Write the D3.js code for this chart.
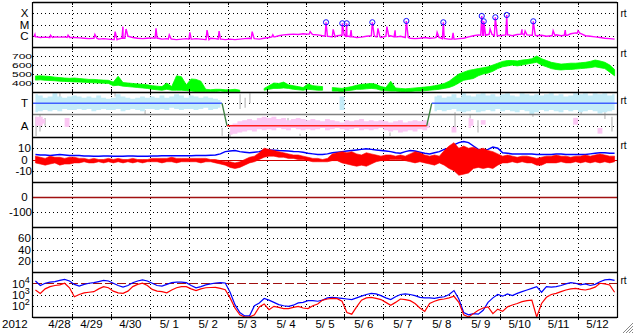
<!DOCTYPE html>
<html><head><meta charset="utf-8">
<script src="https://cdn.jsdelivr.net/npm/d3@7"></script>
<style>
html,body{margin:0;padding:0;background:#fff;}
svg{display:block;font-family:"Liberation Sans",Arial,sans-serif;}
</style></head><body>
<svg id="c" width="633" height="334"></svg>
<script>
// ---------------- DATA ----------------
const yearLabel = "2012";
const dayLabels = ["4/28","4/29","4/30","5/ 1","5/ 2","5/ 3","5/ 4","5/ 5","5/ 6","5/ 7","5/ 8","5/ 9","5/10","5/11","5/12"];
const binDays = 0.125; // 3-hour bins, days since 2012-04-28 00:00 UT

const xrayTickValues = [1e-4, 1e-5, 1e-6];
const xrayTickLabels = ["X", "M", "C"];
const speedTicks = [700, 600, 500, 400];
const sectorTickValues = [1, -1];
const sectorTickLabels = ["T", "A"];
const imfTicks = [10, 0, -10];
const dstTicks = [0, -100];
const p6Ticks = [60, 40, 20];
const electronTicks = [1e4, 1e3, 1e2];
const electronTickExp = ["4", "3", "2"];

// X-ray background flux per 3h bin (units of 1e-6 W/m2)
const xrayBg = [
 0.8,0.7,0.75,0.7,0.8,0.75,0.8,0.7,
 0.7,0.65,0.6,0.55,0.6,0.5,0.55,0.5,
 0.45,0.5,0.6,0.9,0.7,0.6,0.55,0.6,
 0.65,0.6,0.5,0.55,0.5,0.45,0.5,0.55,
 0.5,0.55,0.5,0.45,0.6,0.55,0.5,0.45,
 0.5,0.45,0.5,0.55,0.6,0.55,0.5,0.6,
 0.7,0.8,1.0,1.2,1.3,1.4,1.3,1.5,
 1.4,1.3,1.2,1.0,0.9,0.8,1.0,1.1,
 0.9,0.8,0.7,0.75,0.9,1.0,0.8,0.7,
 0.9,1.0,0.8,0.9,0.7,0.6,0.55,0.6,
 0.7,0.6,0.65,0.7,0.55,0.5,0.5,0.55,
 0.6,0.8,1.0,1.2,1.1,1.3,1.2,1.0,
 1.1,1.2,1.0,1.3,1.4,1.2,1.1,1.0,
 1.1,0.9,1.0,1.2,1.0,1.1,1.5,1.8,
 1.6,1.0,0.9,0.8,0.7,0.6,0.55,0.5];
// C-class spikes (day, peak in 1e-6 W/m2)
const cSpikeDay  = [0.05,0.45,0.9,1.59,2.11,2.31,2.39,3.16,3.5,4.03,4.47,4.78,5.63,6.16,7.12,7.71,8.17,8.86,9.09,9.30,10.38,10.79,11.74,12.56,12.64,13.36,13.67,14.0];
const cSpikePeak = [1.3,1.1,1.1,1.3,2.3,6.4,4.0,4.6,1.2,2.0,3.2,2.6,2.3,1.2,2.3,3.7,3.2,4.6,6.4,3.0,2.0,1.8,4.0,3.7,2.6,2.8,3.2,2.8];
// M-class flares (circled)
const flareDay  = [7.527,7.945,8.058,8.716,9.589,10.54,11.526,11.577,11.875,12.168,12.85];
const flarePeak = [15.7,12.8,12.8,15.7,20.5,15.7,57,19.2,43.6,69.9,19.2];

// Solar wind speed band per 3h bin (km/s)
const speedLo = [
 432,435,430,428,425,420,418,415,
 412,410,408,405,402,400,398,395,
 370,375,365,360,355,350,345,340,
 330,325,320,330,320,320,320,315,
 310,305,305,305,305,305,310,305,
 305,305,305,null,null,null,null,320,
 330,340,340,345,340,330,325,320,
 330,325,320,320,null,310,310,305,
 315,320,330,330,335,340,335,320,
 315,310,310,305,305,305,310,310,
 315,320,325,330,340,350,370,400,
 430,440,450,480,500,510,530,560,
 580,590,600,590,600,610,620,630,
 600,580,560,550,545,550,550,555,
 560,565,570,580,570,560,520,480];
const speedHi = [
 478,480,476,472,465,460,455,452,
 455,450,445,440,440,435,432,430,
 410,475,405,400,395,390,385,380,
 370,365,360,400,360,480,470,380,
 445,440,420,330,325,330,330,325,
 325,330,320,null,null,null,null,340,
 370,400,395,410,380,370,360,350,
 390,370,365,360,null,350,345,340,
 350,360,375,385,390,395,385,360,
 350,420,345,340,335,340,345,350,
 355,360,370,380,395,420,460,500,
 520,540,550,560,570,580,600,620,
 640,650,650,645,655,660,670,700,
 670,650,630,620,610,615,620,620,
 625,630,640,655,645,630,600,550];

// IMF sector (T = +1, A = -1): toward / away scatter bands per bin
const towardLo = [
 0.2,0.3,0.4,0.3,0.4,0.3,0.5,0.4,
 0.4,0.5,0.4,0.5,0.3,0.4,0.5,0.4,
 0.4,0.5,0.3,0.4,0.5,0.4,0.3,0.5,
 0.5,0.4,0.5,0.4,0.6,0.5,0.4,0.5,
 0.5,0.4,0.5,0.6,0.4,0.5,0.6,null,
 null,null,null,null,null,null,null,null,
 null,null,null,null,null,null,null,null,
 null,null,null,null,null,null,null,0.4,
 null,null,null,null,null,null,null,null,
 null,null,null,null,null,null,null,null,
 null,null,0.3,0.4,0.3,0.4,0.5,0.3,
 0.2,0.3,0.4,0.2,0.3,0.4,0.3,0.5,
 0.3,0.4,0.3,0.2,0.4,0.3,0.0,0.2,
 0.4,0.3,0.4,0.3,0.2,0.4,0.3,0.4,
 0.2,0.3,0.4,0.3,0.1,0.2,0.3,0.4];
const towardHi = [
 1.8,1.7,1.5,1.6,1.9,1.6,1.5,1.6,
 1.7,1.6,1.5,1.6,1.5,1.7,1.5,1.4,
 1.5,1.8,1.6,1.5,1.4,1.5,1.6,1.5,
 1.6,1.5,1.7,1.5,1.6,1.8,1.7,1.5,
 1.7,1.6,1.5,1.6,1.5,1.4,1.3,null,
 null,null,null,null,null,null,null,null,
 null,null,null,null,null,null,null,null,
 null,null,null,null,null,null,null,1.6,
 null,null,null,null,null,null,null,null,
 null,null,null,null,null,null,null,null,
 null,null,1.6,1.7,1.5,1.6,1.8,1.5,
 1.9,1.7,1.6,1.8,1.9,1.7,1.8,1.6,
 1.8,1.9,1.7,1.6,1.9,1.8,1.7,1.8,
 1.7,1.8,1.9,1.7,1.8,1.6,1.7,1.9,
 1.8,1.9,1.7,1.9,1.8,1.9,1.7,1.8];
const awayLo = [
 -1.0,-1.0,-0.8,null,null,null,-1.1,-1.1,
 null,null,null,null,null,null,null,null,
 null,null,null,null,null,null,null,null,
 null,null,null,null,null,null,null,null,
 null,null,null,null,null,null,null,null,
 -1.8,-1.7,-1.6,-1.5,-1.4,-1.5,-1.3,-1.4,
 -1.3,-1.4,-1.2,-1.3,-1.4,-1.2,-1.3,-1.4,
 -1.3,-1.4,-1.3,-1.2,-1.4,-1.3,-1.2,-1.3,
 -1.4,-1.3,-1.2,-1.4,-1.3,-1.4,-1.3,-1.2,
 -1.4,-1.5,-1.4,-1.6,-1.5,-1.4,-1.5,-1.3,
 -1.4,-1.2,null,null,null,null,-1.6,null,
 null,-1.2,-1.0,null,-0.9,null,null,null,
 null,null,null,null,null,null,null,null,
 null,null,null,null,null,null,null,-0.9,
 null,null,null,null,-1.7,null,null,null];
const awayHi = [
 -0.2,-0.2,-0.4,null,null,null,-0.3,-0.3,
 null,null,null,null,null,null,null,null,
 null,null,null,null,null,null,null,null,
 null,null,null,null,null,null,null,null,
 null,null,null,null,null,null,null,null,
 -0.9,-0.8,-0.6,-0.5,-0.4,-0.5,-0.3,-0.2,
 -0.3,-0.2,-0.4,-0.3,-0.5,-0.4,-0.3,-0.4,
 -0.5,-0.4,-0.5,-0.6,-0.4,-0.5,-0.6,-0.7,
 -0.5,-0.6,-0.5,-0.4,-0.6,-0.5,-0.6,-0.5,
 -0.6,-0.7,-0.6,-0.5,-0.7,-0.6,-0.5,-0.6,
 -0.5,-0.7,null,null,null,null,-1.1,null,
 null,-0.3,-0.4,null,-0.5,null,null,null,
 null,null,null,null,null,null,null,null,
 null,null,null,null,null,null,null,-0.3,
 null,null,null,null,-1.2,null,null,null];
const grayDay = [0.08,0.18,0.31,0.69,2.11,2.88,4.03,4.86,5.06,5.32,5.45,5.57,6.55,6.86,9.17,10.84,11.23,11.43,12.84,14.08,14.69,14.87];
const grayLo  = [-1.9,-1.5,-1.0,1.4,1.6,0.0,1.5,-1.9,-2.0,0.5,0.6,1.0,-1.3,-1.9,-1.9,-1.5,-1.2,-1.6,-0.2,0.0,-0.4,-1.5];
const grayHi  = [-0.2,0.0,-0.3,1.9,1.9,0.4,1.9,-1.2,-1.5,1.8,1.5,1.9,-0.3,-1.7,-1.6,0.2,0.0,-0.5,0.1,0.4,0.2,-0.2];
// sector polarity fit
const sectorDay = [0, 4.855, 4.983, 10.113, 10.242, 15];
const sectorVal = [1, 1, -1, -1, 1, 1];

// IMF |B| (nT) per bin
const btVals = [
 4.5,4.0,4.0,3.5,4.0,4.5,4.0,3.5,
 3.5,3.5,3.2,3.2,3.0,3.0,3.2,3.2,
 3.0,3.0,3.0,3.2,3.2,3.0,3.0,3.0,
 3.2,3.2,3.4,3.4,3.3,3.3,3.4,3.4,
 3.4,3.5,3.5,3.6,3.8,4.0,5.0,7.0,
 7.5,8.0,7.0,6.5,6.0,6.5,7.0,8.5,
 8.5,8.3,8.0,7.8,7.5,7.2,7.0,6.5,
 5.5,5.0,4.5,4.5,5.0,6.0,6.5,7.0,
 7.5,8.0,8.5,9.0,9.5,9.0,8.5,8.0,
 7.5,7.0,6.0,5.5,7.0,8.0,7.5,6.5,
 5.5,5.0,6.0,7.0,9.0,10.0,13.0,15.0,
 16.0,15.0,12.0,9.0,8.5,9.0,11.0,10.0,
 6.0,5.5,5.0,5.0,5.0,4.8,4.8,4.5,
 4.5,4.5,4.5,4.8,4.8,4.5,4.5,4.5,
 4.5,4.5,5.0,5.5,6.0,6.0,5.5,5.5];
// IMF Bz (nT) band per bin
const bzLo = [
 -3,-4,-5,-4,-3,-5,-4,-4,
 -3,-3,-2,-3,-3,-2,-3,-2,
 -3,-2,-3,-2,-3,-2,-3,-2,
 -2,-2,-3,-2,-2,-3,-2,-2,
 -2,-2,-3,-2,-2,-3,-4,-5,
 -7,-8,-7,-5,-3,-2,0,2,
 3,3,2,2,1,1,0,0,
 -1,-2,-2,-2,-2,-1,-1,-3,
 -4,-5,-6,-5,-6,-4,-2,-1,
 -1,0,0,0,-1,-2,-3,-2,
 -3,-4,-5,-3,-5,-8,-10,-14,
 -13,-12,-8,-7,-8,-7,-8,-5,
 -3,-3,-2,-3,-2,-3,-3,-5,
 -5,-3,-3,-3,-2,-3,-3,-2,
 -3,-2,-3,-2,-3,-2,-3,-2];
const bzHi = [
 3,2,1,3,2,2,1,2,
 2,1,1,0,1,0,0,1,
 0,1,0,0,1,0,0,0,
 1,1,1,1,2,1,1,1,
 1,1,1,1,0,0,-1,-2,
 -2,-3,-2,0,2,3,6,10,
 9,8,7,6,5,4,4,3,
 2,1,1,0,1,5,6,7,
 6,7,5,4,6,5,4,3,
 4,4,3,4,3,5,7,6,
 4,3,4,3,8,12,15,10,
 12,10,11,9,10,8,7,5,
 3,4,3,2,3,3,2,1,
 2,3,3,4,3,3,2,3,
 3,4,3,4,5,4,3,3];

// Electron flux, log10 per bin
const eBlueLog = [
 4.2,3.8,4.0,4.1,4.15,4.25,4.35,4.2,
 3.9,3.75,3.9,4.0,4.05,4.15,4.25,4.2,
 4.0,3.8,3.65,3.8,4.05,4.2,4.3,4.2,
 4.0,3.8,3.75,3.9,4.05,4.1,4.1,4.05,
 3.8,3.6,3.7,3.85,3.95,4.02,4.05,4.02,
 3.2,2.1,1.4,1.1,1.1,2.0,2.25,2.65,
 2.5,2.3,2.1,2.0,1.95,2.05,2.25,2.3,
 2.45,2.45,2.4,2.5,2.7,2.75,2.7,2.65,
 2.6,2.55,2.7,2.85,3.0,3.1,3.05,2.9,
 2.7,2.55,2.8,3.0,3.05,3.0,2.9,2.75,
 2.7,2.7,2.65,2.75,2.8,3.0,3.35,2.6,
 1.4,1.2,1.3,1.25,1.6,2.3,2.7,3.0,
 2.85,3.05,2.9,3.1,3.25,3.4,3.55,3.7,
 3.2,3.7,3.65,3.7,3.8,3.95,4.05,4.0,
 3.85,3.95,3.8,3.9,4.14,4.3,4.35,4.25];
const eRedLog = [
 3.4,3.1,3.5,3.7,3.8,3.85,4.0,3.6,
 2.8,3.0,3.15,3.2,3.25,3.5,3.7,3.6,
 3.3,3.15,3.1,3.3,3.7,3.9,4.0,3.8,
 3.45,3.3,3.25,3.15,3.4,3.6,3.7,3.7,
 3.5,3.35,3.5,3.6,3.62,3.64,3.55,3.43,
 2.7,1.8,1.2,1.0,1.0,1.2,1.9,2.16,
 1.65,1.95,1.85,1.75,1.74,1.85,1.95,1.8,
 1.75,2.0,2.16,2.5,2.6,2.65,2.63,2.4,
 1.4,1.25,1.9,2.5,2.7,2.75,2.65,2.55,
 2.3,2.05,2.3,2.6,2.55,2.45,2.2,1.8,
 1.5,2.2,2.4,2.55,2.6,2.7,2.84,2.3,
 1.2,1.0,1.3,1.6,1.8,1.9,1.3,1.7,
 1.5,1.9,2.07,2.2,2.36,2.45,2.5,1.0,
 2.2,2.75,3.0,3.1,3.25,3.4,3.5,3.55,
 3.45,3.4,3.5,3.65,4.0,3.95,3.85,3.2];

// ---------------- DRAW ----------------
const svg = d3.select("#c");
const L = 33, R = 617, PH = 45;
const tops = [2, 47, 92, 137, 182, 227, 272];
const BOT = tops[6] + PH;
const x = d3.scaleLinear().domain([0, 15]).range([L, R]);
const yX = d3.scaleLog().domain([1e-7, 1e-3]).range([tops[0] + PH, tops[0]]);
const yV = d3.scaleLinear().domain([300, 800]).range([tops[1] + PH, tops[1]]);
const yS = d3.scaleLinear().domain([-2, 2]).range([tops[2] + PH, tops[2]]);
const yB = d3.scaleLinear().domain([-20, 20]).range([tops[3] + PH, tops[3]]);
const yD = d3.scaleLinear().domain([-200, 100]).range([tops[4] + PH, tops[4]]);
const yK = d3.scaleLinear().domain([0, 80]).range([tops[5] + PH, tops[5]]);
const yE = d3.scaleLog().domain([10, 1e5]).range([tops[6] + PH, tops[6]]);
const crisp = v => Math.round(v) + 0.5;
const binMid = i => (i + 0.5) * binDays;

const defs = svg.append("defs");
tops.forEach((t, i) => {
  defs.append("clipPath").attr("id", "cp" + i).append("rect")
    .attr("x", L).attr("y", t).attr("width", R - L).attr("height", PH);
});
const panel = i => svg.append("g").attr("clip-path", `url(#cp${i})`);

// grid
const grid = svg.append("g");
function dotH(y, color) {
  grid.append("line").attr("x1", L).attr("x2", R).attr("y1", crisp(y)).attr("y2", crisp(y))
    .attr("stroke", color || "#000").attr("stroke-width", 1).attr("stroke-dasharray", "1,3");
}
xrayTickValues.forEach(v => dotH(yX(v)));
speedTicks.forEach(v => dotH(yV(v)));
sectorTickValues.forEach(v => dotH(yS(v)));
imfTicks.filter(v => v !== 0).forEach(v => dotH(yB(v)));
dstTicks.filter(v => v !== 0).forEach(v => dotH(yD(v)));
p6Ticks.forEach(v => dotH(yK(v)));
electronTicks.filter(v => v !== 1e4).forEach(v => dotH(yE(v)));
d3.range(1, 15).forEach(d => {
  tops.forEach(t => {
    grid.append("line").attr("x1", crisp(x(d))).attr("x2", crisp(x(d)))
      .attr("y1", t).attr("y2", t + PH)
      .attr("stroke", "#000").attr("stroke-dasharray", "1,3");
  });
});

// --- Panel 0: X-ray
{
  const g = panel(0);
  const bgAt = t => xrayBg[Math.max(0, Math.min(xrayBg.length - 1, Math.floor(t / binDays)))];
  let pts = xrayBg.map((v, i) => ({ t: binMid(i), v: v }));
  const spikes = cSpikeDay.map((d, i) => ({ t: d, p: cSpikePeak[i] }))
    .concat(flareDay.map((d, i) => ({ t: d, p: flarePeak[i] })));
  spikes.forEach(s => {
    pts.push({ t: s.t - 0.025, v: bgAt(s.t) });
    pts.push({ t: s.t, v: s.p });
    pts.push({ t: s.t + 0.05, v: bgAt(s.t) });
  });
  pts.sort((a, b) => a.t - b.t);
  g.append("path").datum(pts)
    .attr("d", d3.line().x(d => x(d.t)).y(d => yX(d.v * 1e-6)))
    .attr("fill", "none").attr("stroke", "#ff00ff").attr("stroke-width", 1.4);
  g.selectAll("circle.fl").data(flareDay).join("circle")
    .attr("cx", (d) => x(d)).attr("cy", (d, i) => yX(flarePeak[i] * 1e-6))
    .attr("r", 2.6).attr("fill", "none").attr("stroke", "#1010ff").attr("stroke-width", 1);
}

// --- Panel 1: speed
{
  const g = panel(1);
  const data = speedLo.map((lo, i) => ({ t: binMid(i), lo: lo, hi: speedHi[i] }));
  g.append("path").datum(data)
    .attr("d", d3.area().defined(d => d.lo != null).x(d => x(d.t)).y0(d => yV(d.lo)).y1(d => yV(d.hi)))
    .attr("fill", "#00ff00").attr("stroke", "#00ff00").attr("stroke-width", 0.8);
}

// --- Panel 2: sector
{
  const g = panel(2);
  grayDay.forEach((d, i) => {
    g.append("line").attr("x1", x(d)).attr("x2", x(d)).attr("y1", yS(grayLo[i])).attr("y2", yS(grayHi[i]))
      .attr("stroke", "#cccccc").attr("stroke-width", 1.6);
  });
  const band = (lo, hi, color) => {
    const data = lo.map((l, i) => ({ t: binMid(i), lo: l, hi: hi[i] }));
    g.append("path").datum(data)
      .attr("d", d3.area().defined(d => d.lo != null).curve(d3.curveStep)
        .x(d => x(d.t)).y0(d => yS(d.lo)).y1(d => yS(d.hi)))
      .attr("fill", color);
    data.forEach((d, i) => {
      if (d.lo == null) return;
      const prev = i > 0 ? data[i - 1].lo : null, next = i < data.length - 1 ? data[i + 1].lo : null;
      if (prev == null && next == null) {
        g.append("rect").attr("x", x(i * binDays)).attr("width", x(binDays) - x(0))
          .attr("y", yS(d.hi)).attr("height", yS(d.lo) - yS(d.hi)).attr("fill", color);
      }
    });
  };
  band(towardLo, towardHi, "#c4ecf8");
  band(awayLo, awayHi, "#fcc8f4");
  g.append("line").attr("x1", L).attr("x2", R).attr("y1", yS(0)).attr("y2", yS(0))
    .attr("stroke", "#808080").attr("stroke-width", 1.5);
  for (let i = 0; i < sectorDay.length - 1; i++) {
    const a = sectorVal[i], b = sectorVal[i + 1];
    const col = a !== b ? "#3c8040" : (a > 0 ? "#4060ff" : "#ff2020");
    g.append("line").attr("x1", x(sectorDay[i])).attr("x2", x(sectorDay[i + 1]))
      .attr("y1", yS(a)).attr("y2", yS(b)).attr("stroke", col).attr("stroke-width", 1.3);
  }
}

// --- Panel 3: IMF
{
  const g = panel(3);
  g.append("line").attr("x1", L).attr("x2", R).attr("y1", crisp(yB(0))).attr("y2", crisp(yB(0)))
    .attr("stroke", "#cc0000").attr("stroke-width", 1);
  g.append("path").datum(btVals)
    .attr("d", d3.line().x((d, i) => x(binMid(i))).y(d => yB(d)))
    .attr("fill", "none").attr("stroke", "#0000ff").attr("stroke-width", 1.5);
  const data = bzLo.map((lo, i) => ({ t: binMid(i), lo: lo, hi: bzHi[i] }));
  g.append("path").datum(data)
    .attr("d", d3.area().x(d => x(d.t)).y0(d => yB(d.lo)).y1(d => yB(d.hi)))
    .attr("fill", "#ff0000").attr("stroke", "#ff0000").attr("stroke-width", 0.6);
}

// --- Panel 4: Dst (no data, zero line)
{
  const g = panel(4);
  g.append("line").attr("x1", L).attr("x2", R).attr("y1", crisp(yD(0))).attr("y2", crisp(yD(0)))
    .attr("stroke", "#a01010").attr("stroke-width", 1.3);
}

// --- Panel 6: electrons
{
  const g = panel(6);
  g.append("line").attr("x1", L).attr("x2", R).attr("y1", crisp(yE(1e4))).attr("y2", crisp(yE(1e4)))
    .attr("stroke", "#a01010").attr("stroke-width", 1.2).attr("stroke-dasharray", "9,3");
  const ln = d3.line().x((d, i) => x(binMid(i))).y(d => yE(Math.pow(10, d)));
  g.append("path").datum(eBlueLog).attr("d", ln)
    .attr("fill", "none").attr("stroke", "#0000ff").attr("stroke-width", 1.2);
  g.append("path").datum(eRedLog).attr("d", ln)
    .attr("fill", "none").attr("stroke", "#ff0000").attr("stroke-width", 1.2);
}

// frame
const fr = svg.append("g").attr("stroke", "#000");
tops.concat([BOT]).forEach(t => {
  fr.append("line").attr("x1", L).attr("x2", R).attr("y1", t + 0.5).attr("y2", t + 0.5).attr("stroke-width", 1.7);
  d3.range(1, 15).forEach(d => {
    fr.append("line").attr("x1", crisp(x(d))).attr("x2", crisp(x(d)))
      .attr("y1", t === tops[0] ? t : t - 3).attr("y2", t + 3).attr("stroke-width", 1);
  });
});
fr.append("line").attr("x1", L - 0.5).attr("x2", L - 0.5).attr("y1", tops[0]).attr("y2", BOT + 1).attr("stroke-width", 1.2);
fr.append("line").attr("x1", R + 0.5).attr("x2", R + 0.5).attr("y1", tops[0]).attr("y2", BOT + 1).attr("stroke-width", 1.2);

// labels
const lab = svg.append("g").attr("font-size", 11.5).attr("fill", "#000");
function ylab(y, s, fs) {
  const short = s.length <= 2;
  const t = lab.append("text").attr("x", short ? 24.5 : 32).attr("y", y).attr("dy", "0.36em")
    .attr("text-anchor", short ? "middle" : "end").text(s);
  if (fs) t.attr("font-size", fs).attr("textLength", 20).attr("lengthAdjust", "spacingAndGlyphs");
}
xrayTickValues.forEach((v, i) => ylab(yX(v), xrayTickLabels[i]));
speedTicks.forEach(v => ylab(yV(v), String(v), 8));
sectorTickValues.forEach((v, i) => ylab(yS(v), sectorTickLabels[i]));
imfTicks.forEach(v => ylab(yB(v), String(v)));
dstTicks.forEach(v => ylab(yD(v), String(v)));
p6Ticks.forEach(v => ylab(yK(v), String(v)));
electronTicks.forEach((v, i) => {
  const t = lab.append("text").attr("x", 12).attr("y", yE(v)).attr("dy", "0.4em");
  t.append("tspan").text("10");
  t.append("tspan").attr("dy", "-5").attr("font-size", 9).text(electronTickExp[i]);
});
// rt labels
[[0, 15], [1, 10], [2, 12], [3, 11.5], [6, 11.5]].forEach(([p, off]) => {
  lab.append("text").attr("x", 620.5).attr("y", tops[p] + off).attr("font-size", 10).text("rt");
});
// x labels
lab.append("text").attr("x", 2).attr("y", 327.5).text(yearLabel);
dayLabels.forEach((s, i) => {
  lab.append("text").attr("x", x(i + 0.5) + (i === 0 ? 7 : 0)).attr("y", 327.5)
    .attr("text-anchor", "middle").attr("xml:space", "preserve").style("white-space", "pre").text(s);
});
// resize grip
const gr = svg.append("g").attr("stroke", "#888").attr("stroke-width", 1);
[0, 1, 2, 3].forEach(k => {
  gr.append("line").attr("x1", 633).attr("y1", 323 + k * 3).attr("x2", 623 + k * 3).attr("y2", 333);
});
</script>
</body></html>
